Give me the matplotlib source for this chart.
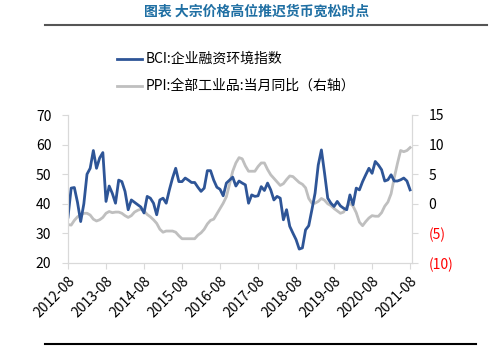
import matplotlib
matplotlib.use('Agg')
import matplotlib.pyplot as plt
import numpy as np

plt.rcParams['font.family'] = ['Noto Sans CJK SC', 'DejaVu Sans']

# monthly, 2012-08 .. 2021-08
bci = [35.5, 45.3, 45.5, 40.5, 34.0, 40.0, 50.0, 52.0, 58.0, 52.0,
       55.5, 57.3, 40.8, 46.0, 43.5, 40.2, 48.0, 47.5, 44.2, 38.0,
       41.3, 40.5, 39.7, 38.9, 36.9, 42.5, 41.9, 40.2, 36.3, 41.3,
       41.9, 40.2, 44.7, 48.7, 52.0, 47.5, 47.5, 48.7, 48.0, 47.2,
       47.2, 45.6, 44.2, 45.3, 51.2, 51.2, 48.0, 45.6, 44.9, 42.7,
       47.0, 48.0, 49.0, 46.0, 47.7, 47.0, 46.4, 40.2, 43.0, 42.5,
       42.7, 45.8, 44.5, 47.0, 44.7, 41.3, 42.5, 41.9, 34.6, 38.0,
       32.4, 30.1, 27.9, 24.7, 25.1, 31.2, 32.6, 38.0, 43.6, 53.1,
       58.2, 50.3, 41.9, 40.2, 39.1, 40.8, 39.3, 38.5, 38.0, 43.0,
       39.7, 45.3, 44.7, 47.5, 49.8, 52.0, 50.3, 54.3, 53.1, 51.5,
       47.7, 48.1, 49.8, 47.7, 47.7, 48.1, 48.7, 47.7, 44.7]

ppi = [-3.5, -3.6, -2.8, -2.2, -1.9, -1.6, -1.6, -1.9, -2.6, -2.9,
       -2.7, -2.3, -1.6, -1.3, -1.5, -1.4, -1.4, -1.6, -2.0, -2.3,
       -2.0, -1.4, -1.1, -0.9, -1.2, -1.8, -2.2, -2.7, -3.3, -4.3,
       -4.8, -4.6, -4.6, -4.6, -4.8, -5.4, -5.9, -5.9, -5.9, -5.9,
       -5.9, -5.3, -4.9, -4.3, -3.4, -2.8, -2.6, -1.7, -0.8, 0.1,
       1.2, 3.3, 5.5, 6.9, 7.8, 7.6, 6.4, 5.5, 5.5, 5.5,
       6.3, 6.9, 6.9, 5.8, 4.9, 4.3, 3.7, 3.1, 3.4, 4.1,
       4.7, 4.6, 4.1, 3.6, 3.3, 2.7, 0.9, 0.1, 0.1, 0.4,
       0.9, 0.6, 0.0, -0.3, -0.8, -1.2, -1.6, -1.4, -0.5, 0.1,
       -0.4, -1.5, -3.1, -3.7, -3.0, -2.4, -2.0, -2.1, -2.1, -1.5,
       -0.4, 0.3, 1.7, 4.4, 6.8, 9.0, 8.8, 9.0, 9.5]

xlabels = ['2012-08', '2013-08', '2014-08', '2015-08', '2016-08',
           '2017-08', '2018-08', '2019-08', '2020-08', '2021-08']
left_ticks = [20, 30, 40, 50, 60, 70]
right_ticks = [-10, -5, 0, 5, 10, 15]
right_labels = ['(10)', '(5)', '0', '5', '10', '15']

title = '图表 大宗价格高位推迟货币宽松时点'
name_bci = 'BCI:企业融资环境指数'
name_ppi = 'PPI:全部工业品:当月同比（右轴）'

blue = '#2E5597'
grey = '#BFBFBF'
spine_c = '#D9D9D9'

fig = plt.figure(figsize=(4.9, 3.59), dpi=100)
ax = fig.add_axes([68/490, 1-263/359, 344/490, 148/359])
ax2 = ax.twinx()

x = np.arange(len(bci))
ax2.plot(x, ppi, color=grey, lw=2.0, solid_joinstyle='round')
ax.plot(x, bci, color=blue, lw=2.0, solid_joinstyle='round')
ax.set_zorder(ax2.get_zorder() + 1)
ax.patch.set_visible(False)

ax.set_xlim(0, 108.6)
ax.set_ylim(20, 70)
ax2.set_ylim(-10, 15)

ax.set_yticks(left_ticks)
ax.set_yticklabels([str(t) for t in left_ticks])
ax2.set_yticks(right_ticks)
ax2.set_yticklabels(right_labels)
for lab, t in zip(ax2.get_yticklabels(), right_ticks):
    lab.set_color('red' if t < 0 else 'black')

ax.set_xticks(np.arange(0, 109, 12))
ax.set_xticklabels(xlabels, rotation=45, ha='right', rotation_mode='anchor')

for a in (ax, ax2):
    for s in a.spines.values():
        s.set_color(spine_c)
    a.spines['top'].set_visible(False)
    a.tick_params(colors=spine_c, labelcolor='black', labelsize=10, length=4)
ax.tick_params(axis='y', pad=8)
ax.tick_params(axis='x', pad=4)
ax2.tick_params(axis='y', pad=8)
for lab, t in zip(ax2.get_yticklabels(), right_ticks):
    lab.set_color('red' if t < 0 else 'black')

# legend drawn as figure lines + text
for i, (nm, c) in enumerate([(name_bci, blue), (name_ppi, grey)]):
    yy = 1 - (59 + 27*i)/359
    fig.add_artist(plt.Line2D([117/490, 142/490], [yy, yy], color=c, lw=2.0,
                              transform=fig.transFigure))
    fig.text(146/490, yy, nm, fontsize=10, va='center', ha='left')

fig.text(257/490, 1 - 12/359, title, fontsize=10, fontweight='bold',
         color='#1F6FA3', ha='center', va='center')
fig.add_artist(plt.Line2D([45/490, 487/490], [1-25/359, 1-25/359],
                          color='#555555', lw=1.5, transform=fig.transFigure))
fig.add_artist(plt.Line2D([45/490, 476/490], [1-344/359, 1-344/359],
                          color='black', lw=1.5, transform=fig.transFigure))

fig.savefig('out.png', dpi=100)
